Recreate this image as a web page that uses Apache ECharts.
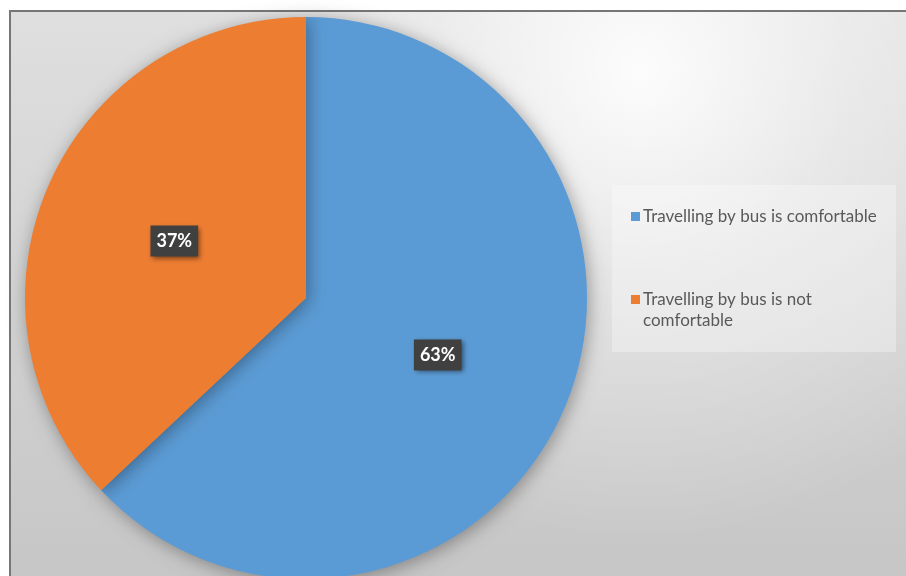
<!DOCTYPE html>
<html><head><meta charset="utf-8">
<script src="https://cdn.jsdelivr.net/npm/echarts@6/dist/echarts.min.js"></script>
<style>html,body{margin:0;padding:0;background:#fff}#c{width:906px;height:576px}</style>
</head><body><div id="c"></div>
<script>
const categories = ['Travelling by bus is comfortable', 'Travelling by bus is not comfortable'];
const values = [63, 37];
const colors = ['#5B9BD5', '#ED7D31'];
const legendLines = [['Travelling by bus is comfortable'], ['Travelling by bus is not', 'comfortable']];

const chart = echarts.init(document.getElementById('c'), null, {renderer: 'canvas'});
const font = 'Lato, "Open Sans", sans-serif';
chart.setOption({
  animation: false,
  graphic: [
    {type: 'rect', z: -10, shape: {x: 10, y: 11, width: 900, height: 570},
     style: {fill: {type: 'linear', x: 0, y: 0, x2: 0, y2: 1,
       colorStops: [{offset: 0, color: '#dfdfdf'}, {offset: 1, color: '#c6c6c6'}]},
       stroke: '#767676', lineWidth: 2}},
    {type: 'rect', z: -9, shape: {x: 11, y: 12, width: 898, height: 568},
     style: {fill: {type: 'radial', x: 640, y: 70, r: 470, global: true,
       colorStops: [{offset: 0, color: 'rgba(255,255,255,0.92)'},
                    {offset: 0.45, color: 'rgba(255,255,255,0.4)'},
                    {offset: 1, color: 'rgba(255,255,255,0)'}]}}},
    {type: 'rect', z: -5, shape: {x: 612, y: 185, width: 284, height: 167},
     style: {fill: 'rgba(255,255,255,0.3)'}},
    {type: 'text', z: 10, x: 643, y: 321,
     style: {text: legendLines[1][1], fill: '#595959', font: '17px ' + font, verticalAlign: 'middle'}}
  ],
  legend: [
    {data: [categories[0]], left: 626, top: 203, orient: 'vertical', icon: 'rect',
     itemWidth: 9, itemHeight: 9, itemGap: 0,
     formatter: n => legendLines[0][0],
     textStyle: {fontFamily: font, fontSize: 17, color: '#595959', padding: [0, 0, 0, -2]}},
    {data: [categories[1]], left: 626, top: 286, orient: 'vertical', icon: 'rect',
     itemWidth: 9, itemHeight: 9, itemGap: 0,
     formatter: n => legendLines[1][0],
     textStyle: {fontFamily: font, fontSize: 17, color: '#595959', padding: [0, 0, 0, -2]}}
  ],
  series: [{
    type: 'pie',
    center: [306, 298],
    radius: [0, 281],
    startAngle: 90,
    clockwise: true,
    data: categories.map((c, i) => ({name: c, value: values[i], itemStyle: {color: colors[i]}})),
    itemStyle: {shadowBlur: 18, shadowColor: 'rgba(0,0,0,0.35)', shadowOffsetX: 2, shadowOffsetY: 3},
    label: {
      position: 'inside',
      formatter: p => p.value + '%',
      color: '#ffffff', fontWeight: 'bold', fontSize: 18, fontFamily: font,
      backgroundColor: '#404040', padding: [7, 6, 6, 6],
      shadowBlur: 5, shadowColor: 'rgba(0,0,0,0.5)', shadowOffsetX: 2, shadowOffsetY: 2
    },
    labelLine: {show: false},
    emphasis: {disabled: true}
  }]
});
</script></body></html>
